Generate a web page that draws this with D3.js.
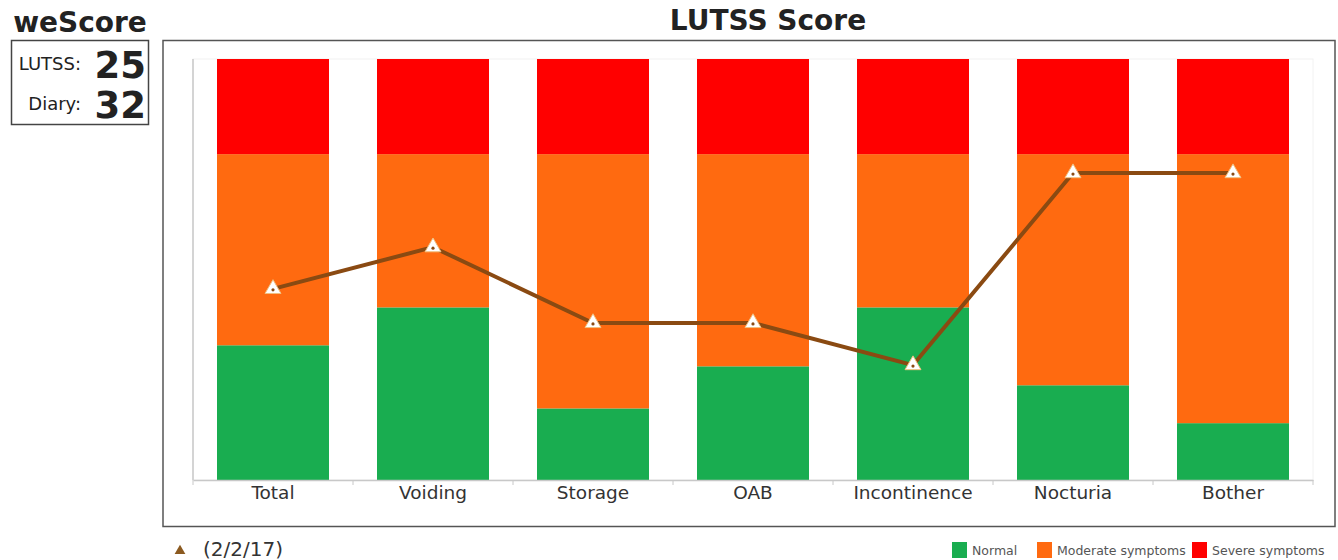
<!DOCTYPE html>
<html>
<head>
<meta charset="utf-8">
<script src="https://cdn.jsdelivr.net/npm/d3@7"></script>
<style>
  body { margin: 0; background: #fff; }
  svg { display: block; font-family: "DejaVu Sans", Verdana, sans-serif; }
</style>
</head>
<body>
<div id="svgcontainer"></div>
<script>
// --- Data (percent of each category's range) ---
var categories = ["Total", "Voiding", "Storage", "OAB", "Incontinence", "Nocturia", "Bother"];
var normal   = [32, 41, 17, 27, 41, 22.5, 13.5];
var moderate = [45.4, 36.4, 60.4, 50.4, 36.4, 54.9, 63.9];
var severe   = [22.6, 22.6, 22.6, 22.6, 22.6, 22.6, 22.6];
var score    = [45.4, 55.3, 37.3, 37.3, 27.3, 72.9, 72.9];
var scoreDate = "(2/2/17)";
var lutssValue = 25;
var diaryValue = 32;
var legendLabels = ["Normal", "Moderate symptoms", "Severe symptoms"];

var colors = {normal: "#19ad50", moderate: "#ff6a10", severe: "#ff0000"};
var line_color = "#8a4a12";

var width = 1338, height = 560;
var plot = {left: 193, right: 1313, top: 59, bottom: 480};

var svg = d3.select("#svgcontainer").append("svg")
  .attr("width", width).attr("height", height).attr("viewBox", [0, 0, width, height]);

// --- weScore box ---
svg.append("text").attr("x", 80).attr("y", 32).attr("text-anchor", "middle")
  .attr("font-size", 28).attr("font-weight", "bold").attr("fill", "#222").text("weScore");
svg.append("rect").attr("x", 11.5).attr("y", 40.5).attr("width", 137).attr("height", 84)
  .attr("fill", "none").attr("stroke", "#444").attr("stroke-width", 1.5);
[["LUTSS:", lutssValue, 64], ["Diary:", diaryValue, 104]].forEach(function(d){
  svg.append("text").attr("x", 81).attr("y", d[2] + 6).attr("text-anchor", "end")
    .attr("font-size", 18).attr("fill", "#222").text(d[0]);
  svg.append("text").attr("x", 146).attr("y", d[2] + 14).attr("text-anchor", "end")
    .attr("font-size", 37).attr("font-weight", "bold").attr("fill", "#222").text(d[1]);
});

// --- chart frame and title ---
svg.append("text").attr("x", 768).attr("y", 30).attr("text-anchor", "middle")
  .attr("font-size", 28).attr("font-weight", "bold").attr("fill", "#222").text("LUTSS Score");
svg.append("rect").attr("x", 163).attr("y", 40.5).attr("width", 1172).attr("height", 486)
  .attr("fill", "none").attr("stroke", "#555").attr("stroke-width", 1.5);

// --- scales ---
var x = d3.scaleBand().domain(categories).range([plot.left, plot.right]).paddingInner(0.3).paddingOuter(0.15);
var y = d3.scaleLinear().domain([0, 100]).range([plot.bottom, plot.top]);

// faint plot outline
svg.append("rect").attr("x", plot.left).attr("y", plot.top)
  .attr("width", plot.right - plot.left).attr("height", plot.bottom - plot.top)
  .attr("fill", "none").attr("stroke", "#f2f2f2");

// --- stacked bars ---
var table = categories.map(function(c, i){
  return {category: c, normal: normal[i], moderate: moderate[i], severe: severe[i]};
});
var series = d3.stack().keys(["normal", "moderate", "severe"])(table);

svg.append("g").selectAll("g").data(series).join("g")
  .attr("fill", function(s){ return colors[s.key]; })
  .selectAll("rect").data(function(s){ return s; }).join("rect")
  .attr("x", function(d){ return x(d.data.category); })
  .attr("y", function(d){ return y(d[1]); })
  .attr("width", x.bandwidth())
  .attr("height", function(d){ return y(d[0]) - y(d[1]); });

// --- axes ---
svg.append("line").attr("x1", plot.left).attr("x2", plot.left)
  .attr("y1", plot.top).attr("y2", plot.bottom).attr("stroke", "#c8c8c8").attr("stroke-width", 1.5);

var xAxis = svg.append("g").attr("transform", "translate(0," + plot.bottom + ")")
  .call(d3.axisBottom(x).tickSize(0).tickPadding(6));
xAxis.select(".domain").attr("stroke", "#c8c8c8").attr("stroke-width", 1.5);
xAxis.selectAll("text").attr("font-size", 18.5).attr("fill", "#333")
  .attr("font-family", "DejaVu Sans, Verdana, sans-serif");
// boundary ticks between categories
var step = x.step();
svg.append("g").selectAll("line").data(d3.range(categories.length + 1)).join("line")
  .attr("x1", function(i){ return plot.left + i * step; })
  .attr("x2", function(i){ return plot.left + i * step; })
  .attr("y1", plot.bottom).attr("y2", plot.bottom + 5)
  .attr("stroke", "#c8c8c8");

// --- score line ---
var cx = function(i){ return x(categories[i]) + x.bandwidth() / 2; };
svg.append("path").datum(score)
  .attr("fill", "none").attr("stroke", line_color).attr("stroke-width", 4)
  .attr("stroke-linejoin", "round")
  .attr("d", d3.line().x(function(d, i){ return cx(i); }).y(function(d){ return y(d); }));

var tri = d3.symbol().type(d3.symbolTriangle).size(110);
svg.append("g").selectAll("path").data(score).join("path")
  .attr("transform", function(d, i){ return "translate(" + cx(i) + "," + y(d) + ")"; })
  .attr("d", tri).attr("fill", "#fff").attr("stroke", "#f0c080").attr("stroke-width", 1);
svg.append("g").selectAll("circle").data(score).join("circle")
  .attr("cx", function(d, i){ return cx(i); }).attr("cy", function(d){ return y(d) + 1; })
  .attr("r", 1.6).attr("fill", line_color);

// --- bottom legend for the date ---
svg.append("path").attr("transform", "translate(180,551)")
  .attr("d", d3.symbol().type(d3.symbolTriangle).size(50)).attr("fill", "#8b5a20");
svg.append("text").attr("x", 203).attr("y", 556).attr("font-size", 20).attr("fill", "#333").text(scoreDate);

// --- category legend ---
var legendX = [952, 1037, 1192];
var legendKeys = ["normal", "moderate", "severe"];
legendKeys.forEach(function(k, i){
  svg.append("rect").attr("x", legendX[i]).attr("y", 542).attr("width", 15).attr("height", 16)
    .attr("fill", colors[k]);
  svg.append("text").attr("x", legendX[i] + 20).attr("y", 555).attr("font-size", 12.5)
    .attr("fill", "#555").text(legendLabels[i]);
});
</script>
</body>
</html>
